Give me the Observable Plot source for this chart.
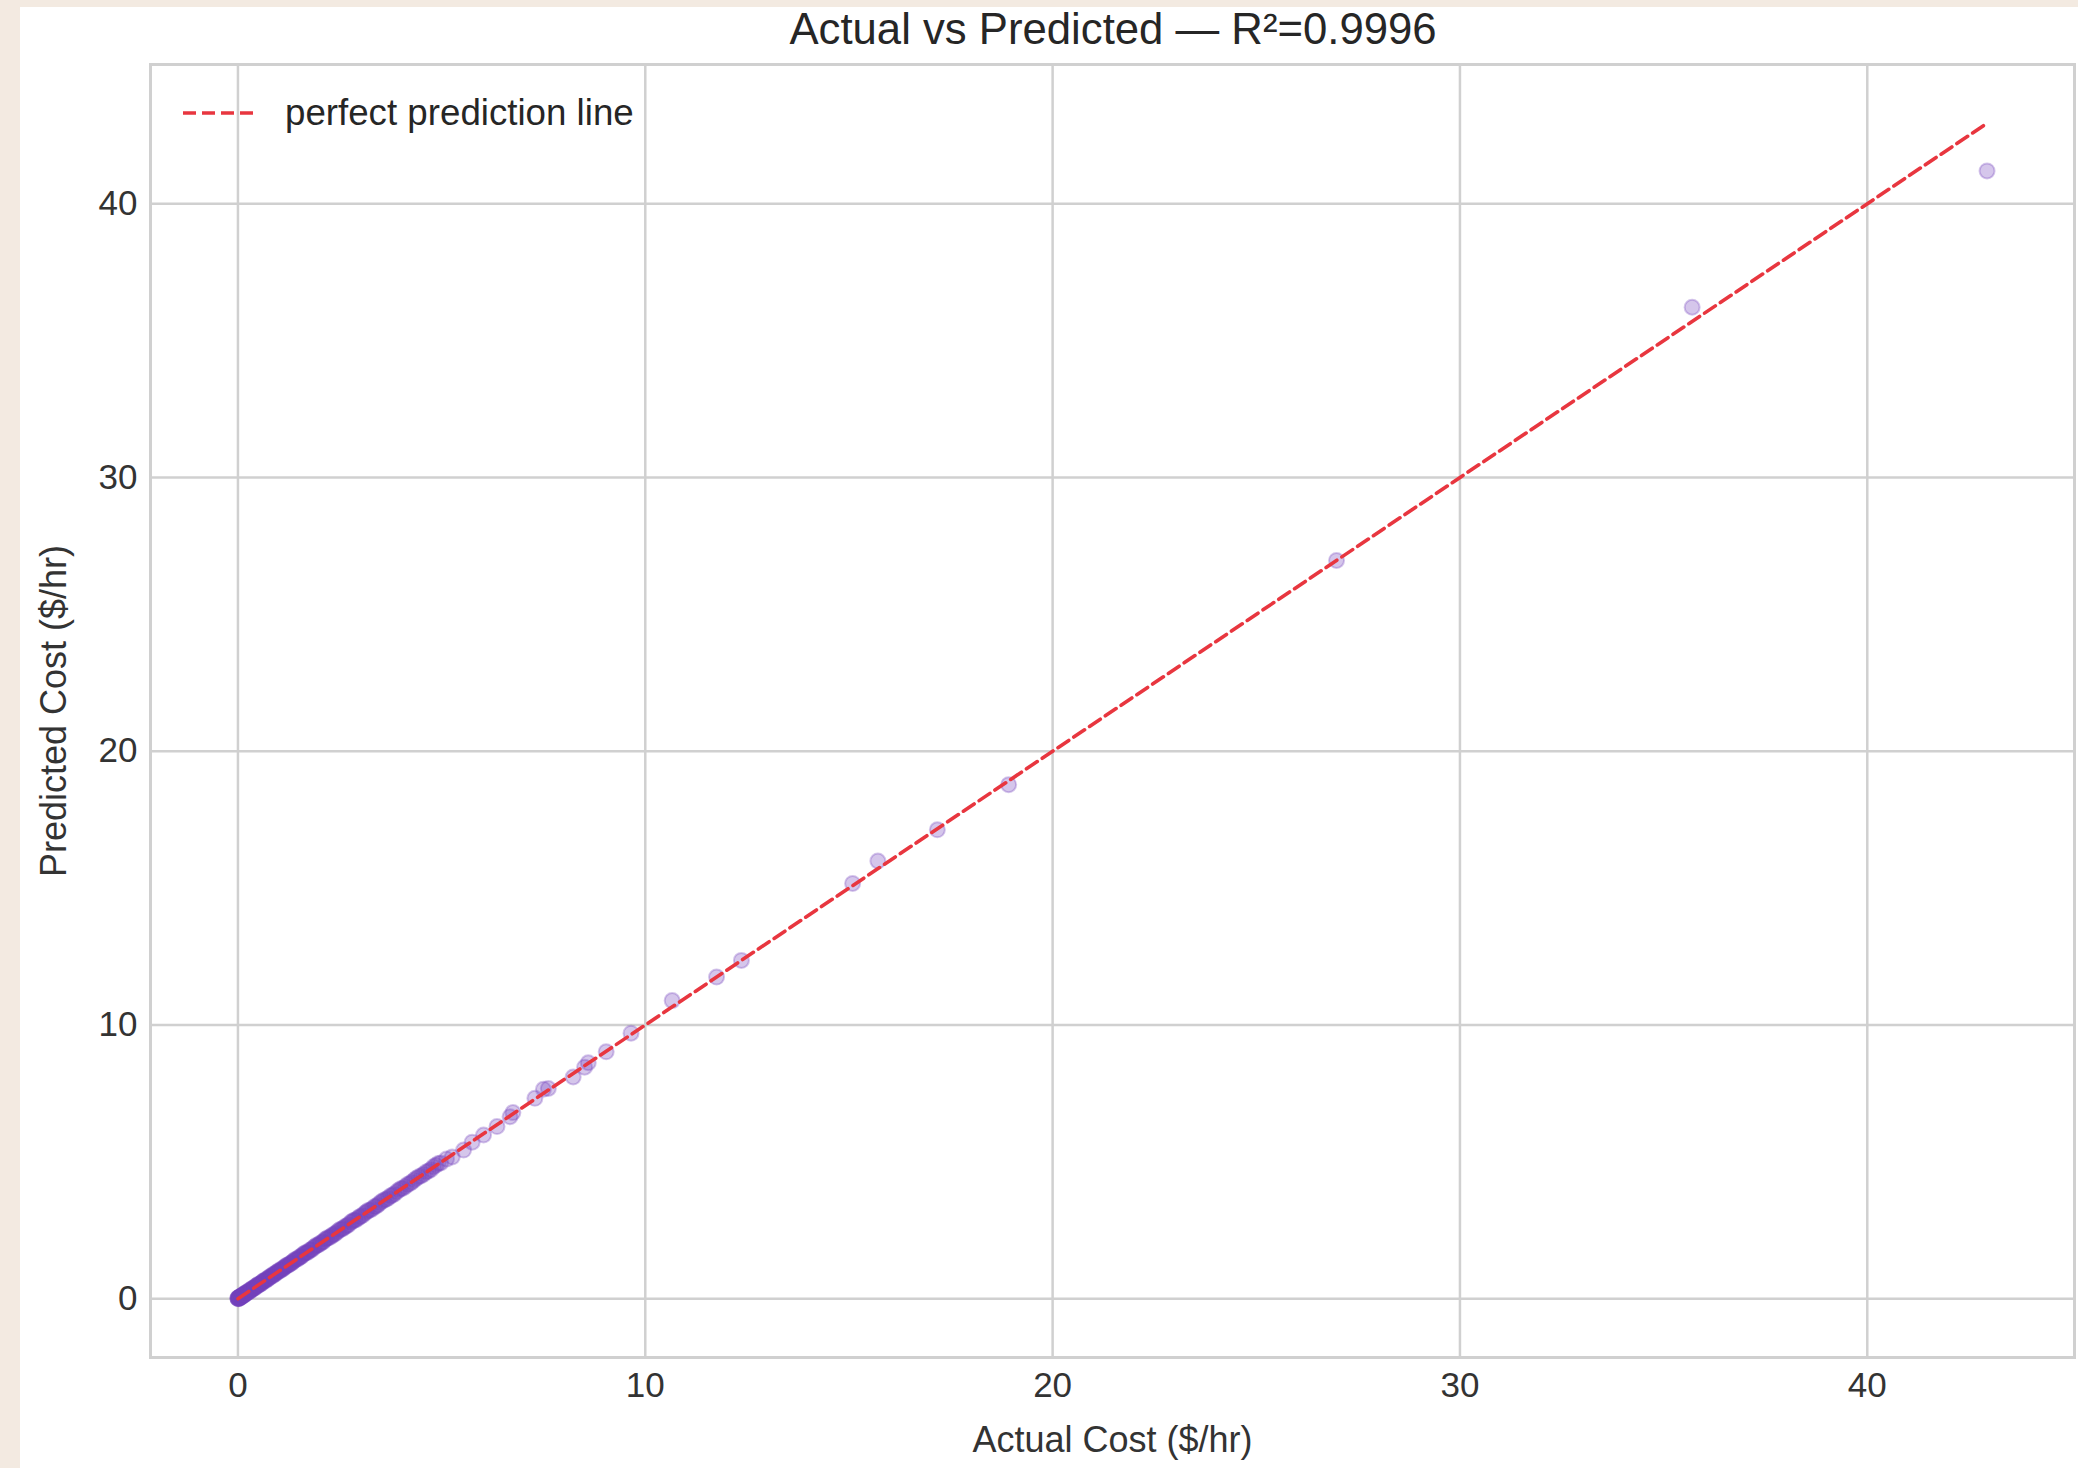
<!DOCTYPE html>
<html>
<head>
<meta charset="utf-8">
<script src="https://cdn.jsdelivr.net/npm/d3@7"></script>
<script src="https://cdn.jsdelivr.net/npm/@observablehq/plot@0.6"></script>
<style>
  html, body { margin: 0; padding: 0; background: #f3eae1; }
  body { width: 2078px; height: 1468px; position: relative; overflow: hidden; font-family: "Liberation Sans", Arial, sans-serif; }
  #panel { position: absolute; left: 20px; top: 7px; width: 2058px; height: 1461px; background: #ffffff; }
  #title { height: 47px; line-height: 44px; text-align: center; font-size: 43.7px; color: #262626; padding-left: 128px; box-sizing: border-box; white-space: nowrap; }
  #legend { position: absolute; left: 163px; top: 84px; height: 44px; display: flex; align-items: center; font-size: 36.7px; color: #262626; }
  #legend svg { margin-right: 28px; }
</style>
</head>
<body>
<div id="panel">
  <div id="title"></div>
  <div id="chart"></div>
  <div id="legend"></div>
</div>
<script>
// ---- data ----
const titleText = "Actual vs Predicted \u2014 R\u00b2=0.9996";
const xLabel = "Actual Cost ($/hr)";
const yLabel = "Predicted Cost ($/hr)";
const legendLabel = "perfect prediction line";
const tickValues = [0, 10, 20, 30, 40];

const actual = [
  0.00, 0.00, 0.01, 0.02, 0.03, 0.05, 0.06, 0.08, 0.10, 0.12,
  0.14, 0.16, 0.18, 0.21, 0.24, 0.27, 0.30, 0.33, 0.36, 0.40,
  0.43, 0.47, 0.50, 0.54, 0.58, 0.62, 0.66, 0.70, 0.74, 0.79,
  0.83, 0.88, 0.92, 0.97, 1.02, 1.07, 1.12, 1.17, 1.22, 1.28,
  1.33, 1.39, 1.45, 1.51, 1.57, 1.63, 1.69, 1.76, 1.82, 1.89,
  1.96, 2.03, 2.10, 2.17, 2.25, 2.32, 2.40, 2.48, 2.56, 2.64,
  2.72, 2.81, 2.89, 2.98, 3.07, 3.16, 3.25, 3.35, 3.44, 3.54,
  3.64, 3.74, 3.84, 3.95, 4.05, 4.16, 4.27, 4.38, 4.50, 4.62,
  4.74, 4.86, 4.98, 5.12, 5.26, 5.54, 5.75, 6.03, 6.36, 6.68,
  6.75, 7.29, 7.50, 7.62, 8.23, 8.51, 8.60, 9.04, 9.65, 10.66,
  11.75, 12.36, 15.09, 15.71, 17.17, 18.92, 26.97, 35.70, 42.94,
  0.01, 0.04, 0.07, 0.11, 0.15, 0.19, 0.25, 0.31, 0.38, 0.45,
  0.52, 0.60, 0.68, 0.77, 0.86, 0.95, 1.05, 1.15, 1.25, 1.36,
  1.48, 1.60, 1.72, 1.86, 2.00, 2.14, 2.29, 2.44, 2.60, 2.77,
  2.94, 3.12, 3.30, 3.49, 3.69, 3.90, 4.11, 4.33, 4.56, 4.80,
  0.00, 0.02, 0.05, 0.09, 0.13, 0.17, 0.22, 0.28, 0.35, 0.42,
  0.49, 0.56, 0.64, 0.73, 0.82, 0.91, 1.00, 1.10, 1.20, 1.31,
  1.42, 1.54, 1.66, 1.79, 1.93, 2.07, 2.21, 2.36, 2.52, 2.68,
  2.85, 3.02, 3.20, 3.39, 3.59, 3.79, 4.00, 4.22, 4.44, 4.68,
  4.92
];
const predicted = [
  0.01, 0.03, 0.00, 0.04, 0.02, 0.06, 0.04, 0.10, 0.09, 0.13,
  0.12, 0.18, 0.17, 0.22, 0.23, 0.29, 0.28, 0.34, 0.37, 0.38,
  0.45, 0.46, 0.52, 0.53, 0.57, 0.64, 0.65, 0.72, 0.73, 0.80,
  0.82, 0.90, 0.91, 0.98, 1.01, 1.09, 1.11, 1.19, 1.21, 1.29,
  1.32, 1.41, 1.44, 1.52, 1.56, 1.65, 1.68, 1.77, 1.81, 1.91,
  1.95, 2.04, 2.09, 2.19, 2.24, 2.33, 2.39, 2.50, 2.55, 2.65,
  2.71, 2.83, 2.88, 2.99, 3.06, 3.18, 3.24, 3.36, 3.43, 3.56,
  3.63, 3.75, 3.83, 3.97, 4.04, 4.17, 4.26, 4.40, 4.49, 4.63,
  4.72, 4.88, 4.96, 5.10, 5.18, 5.43, 5.72, 5.98, 6.29, 6.65,
  6.80, 7.32, 7.65, 7.68, 8.10, 8.46, 8.62, 9.02, 9.70, 10.89,
  11.75, 12.36, 15.17, 15.99, 17.13, 18.78, 26.97, 36.22, 41.20,
  0.02, 0.05, 0.06, 0.12, 0.14, 0.21, 0.24, 0.33, 0.37, 0.47,
  0.51, 0.62, 0.67, 0.78, 0.85, 0.97, 1.04, 1.16, 1.24, 1.37,
  1.47, 1.62, 1.71, 1.87, 1.99, 2.16, 2.28, 2.45, 2.59, 2.79,
  2.93, 3.13, 3.29, 3.51, 3.68, 3.91, 4.10, 4.34, 4.55, 4.82,
  0.02, 0.01, 0.07, 0.08, 0.15, 0.16, 0.24, 0.27, 0.36, 0.41,
  0.51, 0.55, 0.66, 0.72, 0.84, 0.90, 1.02, 1.09, 1.22, 1.30,
  1.44, 1.53, 1.68, 1.78, 1.95, 2.06, 2.23, 2.35, 2.54, 2.67,
  2.87, 3.01, 3.22, 3.38, 3.61, 3.78, 4.02, 4.21, 4.46, 4.67,
  4.94
];

// ---- build ----
const points = actual.map((a, i) => ({actual: a, predicted: predicted[i]}));
const ext = d3.extent(actual);
const perfect = [{v: ext[0]}, {v: ext[1]}];
const lo = Math.min(ext[0], d3.min(predicted));
const hi = Math.max(ext[1], d3.max(predicted));
const pad = (hi - lo) * 0.05;
const xDomain = [ext[0] - (ext[1] - ext[0]) * 0.05, ext[1] + (ext[1] - ext[0]) * 0.05];
const yDomain = [lo - pad, hi + pad];

const dotColor = "#7442bd";
const lineColor = "#e8363f";
const gridColor = "#d0d0d0";

document.getElementById("title").textContent = titleText;

const chart = Plot.plot({
  width: 2058,
  height: 1414,
  marginTop: 10,
  marginRight: 4,
  marginBottom: 111,
  marginLeft: 130,
  style: {fontFamily: "'Liberation Sans', Arial, sans-serif", fontSize: "35px", color: "#333333", background: "#ffffff", overflow: "visible"},
  x: {domain: xDomain},
  y: {domain: yDomain},
  marks: [
    Plot.gridX(tickValues, {stroke: gridColor, strokeOpacity: 1, strokeWidth: 2.5}),
    Plot.gridY(tickValues, {stroke: gridColor, strokeOpacity: 1, strokeWidth: 2.5}),
    Plot.frame({stroke: gridColor, strokeWidth: 3}),
    Plot.axisX(tickValues, {tickSize: 0, tickPadding: 15, label: null}),
    Plot.axisY(tickValues, {tickSize: 0, tickPadding: 13, label: null}),
    Plot.dot(points, {x: "actual", y: "predicted", r: 7.5, fill: dotColor, fillOpacity: 0.3, stroke: dotColor, strokeOpacity: 0.3, strokeWidth: 2}),
    Plot.line(perfect, {x: "v", y: "v", stroke: lineColor, strokeWidth: 3.6, strokeDasharray: "13,6"}),
    Plot.text([xLabel], {frameAnchor: "bottom", dy: 83, lineAnchor: "middle", textAnchor: "middle", text: d => d, fontSize: 36, fill: "#333333"}),
    Plot.text([yLabel], {frameAnchor: "left", dx: -96, rotate: -90, lineAnchor: "middle", textAnchor: "middle", text: d => d, fontSize: 36, fill: "#333333"})
  ]
});
document.getElementById("chart").appendChild(chart);

// legend
const lg = document.getElementById("legend");
lg.innerHTML = `<svg width="74" height="10"><line x1="0" y1="5" x2="74" y2="5" stroke="${lineColor}" stroke-width="3.6" stroke-dasharray="13,6"/></svg><span></span>`;
lg.querySelector("span").textContent = legendLabel;
</script>
</body>
</html>
